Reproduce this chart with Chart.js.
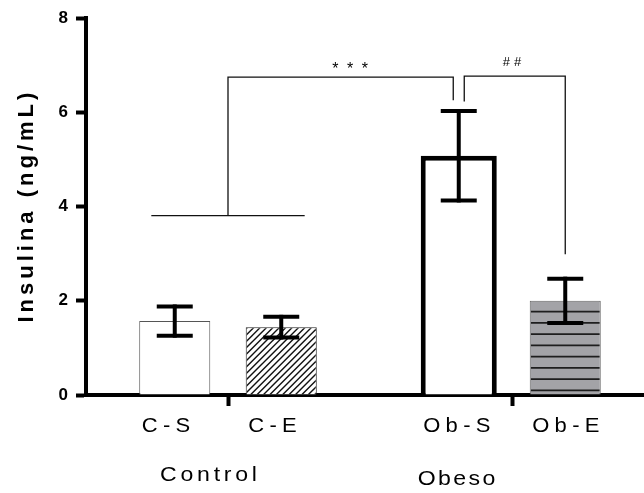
<!DOCTYPE html>
<html>
<head>
<meta charset="utf-8">
<script src="https://cdn.jsdelivr.net/npm/chart.js@4/dist/chart.umd.min.js"></script>
<style>
  html, body { margin: 0; padding: 0; overflow: hidden; background: #fff; }
  #wrap { width: 654px; height: 493px; }
</style>
</head>
<body>
<div id="wrap"><canvas id="chart" width="654" height="493"></canvas></div>
<script>
// ---- data ----
const groups = ['Control', 'Obeso'];
const subgroups = ['C-S', 'C-E', 'Ob-S', 'Ob-E'];
const groupOf = [0, 0, 1, 1];
const means = [1.57, 1.44, 5.08, 2.0];
const sems = [0.31, 0.22, 0.95, 0.47];
const yTicks = [0, 2, 4, 6, 8];
const yTitle = 'Insulina (ng/mL)';

// significance annotations (y in ng/mL)
const sigStars = '***';
const sigHash = '##';
const controlBarLevel = 3.81;
const starTop = 6.75, starDrop = 6.26;
const hashTop = 6.77, hashStart = 6.23, hashDrop = 2.99;

// ---- styles ----
const FONT = "'Liberation Sans', Arial, Helvetica, sans-serif";
const fills = ['#ffffff', '#ffffff', '#ffffff', '#a3a3a7'];
const edges = ['#555555', '#222222', '#000000', '#666666'];
const edgeWidths = [1, 1, 5, 1];
const barPct = [0.667, 0.667, 0.714, 0.667];
const groupLabelShift = [-19.5, -55.5];
const groupLabelBase = [480.5, 484.5];
const STRETCH = 1.1;

const datasets = subgroups.map((name, i) => ({
  label: name,
  data: groups.map((g, gi) => (gi === groupOf[i] ? means[i] : null)),
  backgroundColor: fills[i],
  borderColor: edges[i],
  borderWidth: edgeWidths[i],
  borderSkipped: 'start',
  barPercentage: barPct[i],
  categoryPercentage: 0.75
}));

function line(ctx, pts) {
  ctx.beginPath();
  ctx.moveTo(pts[0][0], pts[0][1]);
  for (let k = 1; k < pts.length; k++) ctx.lineTo(pts[k][0], pts[k][1]);
  ctx.stroke();
}

// text drawn slightly wide, as in the exported figure font
function wideText(ctx, text, x, y, spacing) {
  ctx.save();
  ctx.translate(x, y);
  ctx.scale(STRETCH, 1);
  ctx.letterSpacing = spacing + 'px';
  const dx = ctx.textAlign === 'center' ? spacing / 2 : 0;
  ctx.fillText(text, dx, 0);
  ctx.restore();
}

const decor = {
  id: 'decor',
  afterDatasetsDraw(chart) {
    const ctx = chart.ctx;
    const ys = chart.scales.y;
    const bars = subgroups.map((_, i) => chart.getDatasetMeta(i).data[groupOf[i]]);

    // diagonal hatching in C-E
    const ce = bars[1];
    ctx.save();
    const l1 = ce.x - ce.width / 2 + 1, t1 = ce.y + 1;
    const w1 = ce.width - 2, h1 = ce.base - ce.y - 1;
    ctx.beginPath(); ctx.rect(l1, t1, w1, h1); ctx.clip();
    ctx.strokeStyle = '#111'; ctx.lineWidth = 1.4;
    for (let t = -h1; t < w1 + h1; t += 6.4) {
      line(ctx, [[l1 + t, ce.base], [l1 + t + h1 + 2, ce.base - h1 - 2]]);
    }
    ctx.restore();

    // horizontal stripes in Ob-E
    const oe = bars[3];
    ctx.save();
    const l2 = oe.x - oe.width / 2 + 1, w2 = oe.width - 2;
    ctx.beginPath(); ctx.rect(l2, oe.y + 1, w2, oe.base - oe.y - 1); ctx.clip();
    ctx.strokeStyle = '#1e1e1e'; ctx.lineWidth = 1.8;
    for (let yy = oe.y + 10.8; yy < oe.base - 1; yy += 11.25) {
      line(ctx, [[l2, yy], [l2 + w2, yy]]);
    }
    ctx.restore();

    // error bars (mean ± SEM)
    ctx.save();
    ctx.strokeStyle = '#000'; ctx.lineWidth = 4; ctx.lineCap = 'butt';
    bars.forEach((el, i) => {
      const hi = ys.getPixelForValue(means[i] + sems[i]);
      const lo = ys.getPixelForValue(means[i] - sems[i]);
      line(ctx, [[el.x, hi - 2], [el.x, lo + 2]]);
      line(ctx, [[el.x - 18, hi], [el.x + 18, hi]]);
      line(ctx, [[el.x - 18, lo], [el.x + 18, lo]]);
    });
    ctx.restore();
  },
  afterDraw(chart) {
    const ctx = chart.ctx;
    const xs = chart.scales.x, ys = chart.scales.y;
    const bars = subgroups.map((_, i) => chart.getDatasetMeta(i).data[groupOf[i]]);
    const Y = v => ys.getPixelForValue(v);
    const X = v => xs.getPixelForValue(v);

    // significance brackets
    ctx.save();
    ctx.strokeStyle = '#111'; ctx.lineWidth = 1.3;
    const cx = X(0);
    line(ctx, [[X(-0.27), Y(controlBarLevel)], [X(0.27), Y(controlBarLevel)]]);
    line(ctx, [[cx, Y(controlBarLevel)], [cx, Y(starTop)], [bars[2].x - 5.5, Y(starTop)], [bars[2].x - 5.5, Y(starDrop)]]);
    line(ctx, [[bars[2].x + 5.5, Y(hashStart)], [bars[2].x + 5.5, Y(hashTop)], [bars[3].x, Y(hashTop)], [bars[3].x, Y(hashDrop)]]);

    ctx.fillStyle = '#000';
    ctx.textAlign = 'center';
    ctx.textBaseline = 'alphabetic';
    ctx.font = '16px ' + FONT;
    ctx.letterSpacing = '8.5px';
    ctx.fillText(sigStars, X(0.43) + 4.25, 73.5);
    ctx.font = '13px ' + FONT;
    ctx.letterSpacing = '4px';
    ctx.fillText(sigHash, X(1) + 2, 65.5);
    ctx.restore();

    // category labels under the axis
    ctx.save();
    ctx.fillStyle = '#000';
    ctx.textBaseline = 'alphabetic';
    ctx.font = '20px ' + FONT;
    ctx.textAlign = 'left';
    bars.forEach((el, i) => {
      wideText(ctx, subgroups[i], el.x - el.width / 2 + 2.5, 431.5, 4.8);
    });
    ctx.font = '21px ' + FONT;
    ctx.textAlign = 'center';
    groups.forEach((g, gi) => {
      wideText(ctx, g, X(gi) + groupLabelShift[gi], groupLabelBase[gi], gi === 0 ? 3.4 : 2.2);
    });
    ctx.restore();

    // y axis title
    ctx.save();
    ctx.fillStyle = '#000';
    ctx.font = 'bold 22px ' + FONT;
    ctx.letterSpacing = '4px';
    ctx.textAlign = 'center';
    ctx.textBaseline = 'alphabetic';
    ctx.translate(32.5, (ys.top + ys.bottom) / 2 + 1);
    ctx.rotate(-Math.PI / 2);
    ctx.fillText(yTitle, 2, 0);
    ctx.restore();
  }
};

new Chart(document.getElementById('chart'), {
  type: 'bar',
  data: { labels: groups, datasets },
  options: {
    responsive: false,
    animation: false,
    skipNull: true,
    layout: { padding: { top: 15, left: 0, right: 0, bottom: 0 } },
    plugins: { legend: { display: false }, tooltip: { enabled: false } },
    scales: {
      x: {
        type: 'category',
        offset: true,
        z: 1,
        grid: {
          offset: false, drawOnChartArea: false, drawTicks: true,
          tickLength: 11, tickWidth: 4, tickColor: '#000'
        },
        border: { display: true, width: 4, color: '#000' },
        ticks: { display: false },
        afterFit: s => { s.height = 98; }
      },
      y: {
        min: 0, max: 8,
        z: 1,
        afterBuildTicks: s => { s.ticks = yTicks.map(v => ({ value: v })); },
        grid: {
          drawOnChartArea: false, drawTicks: true,
          tickLength: 10, tickWidth: 4, tickColor: '#000'
        },
        border: { display: true, width: 4, color: '#000' },
        ticks: {
          color: '#000', padding: 8,
          font: { family: FONT, size: 17, weight: 'bold' }
        },
        afterFit: s => { s.width = 86; }
      }
    }
  },
  plugins: [decor]
});
</script>
</body>
</html>
